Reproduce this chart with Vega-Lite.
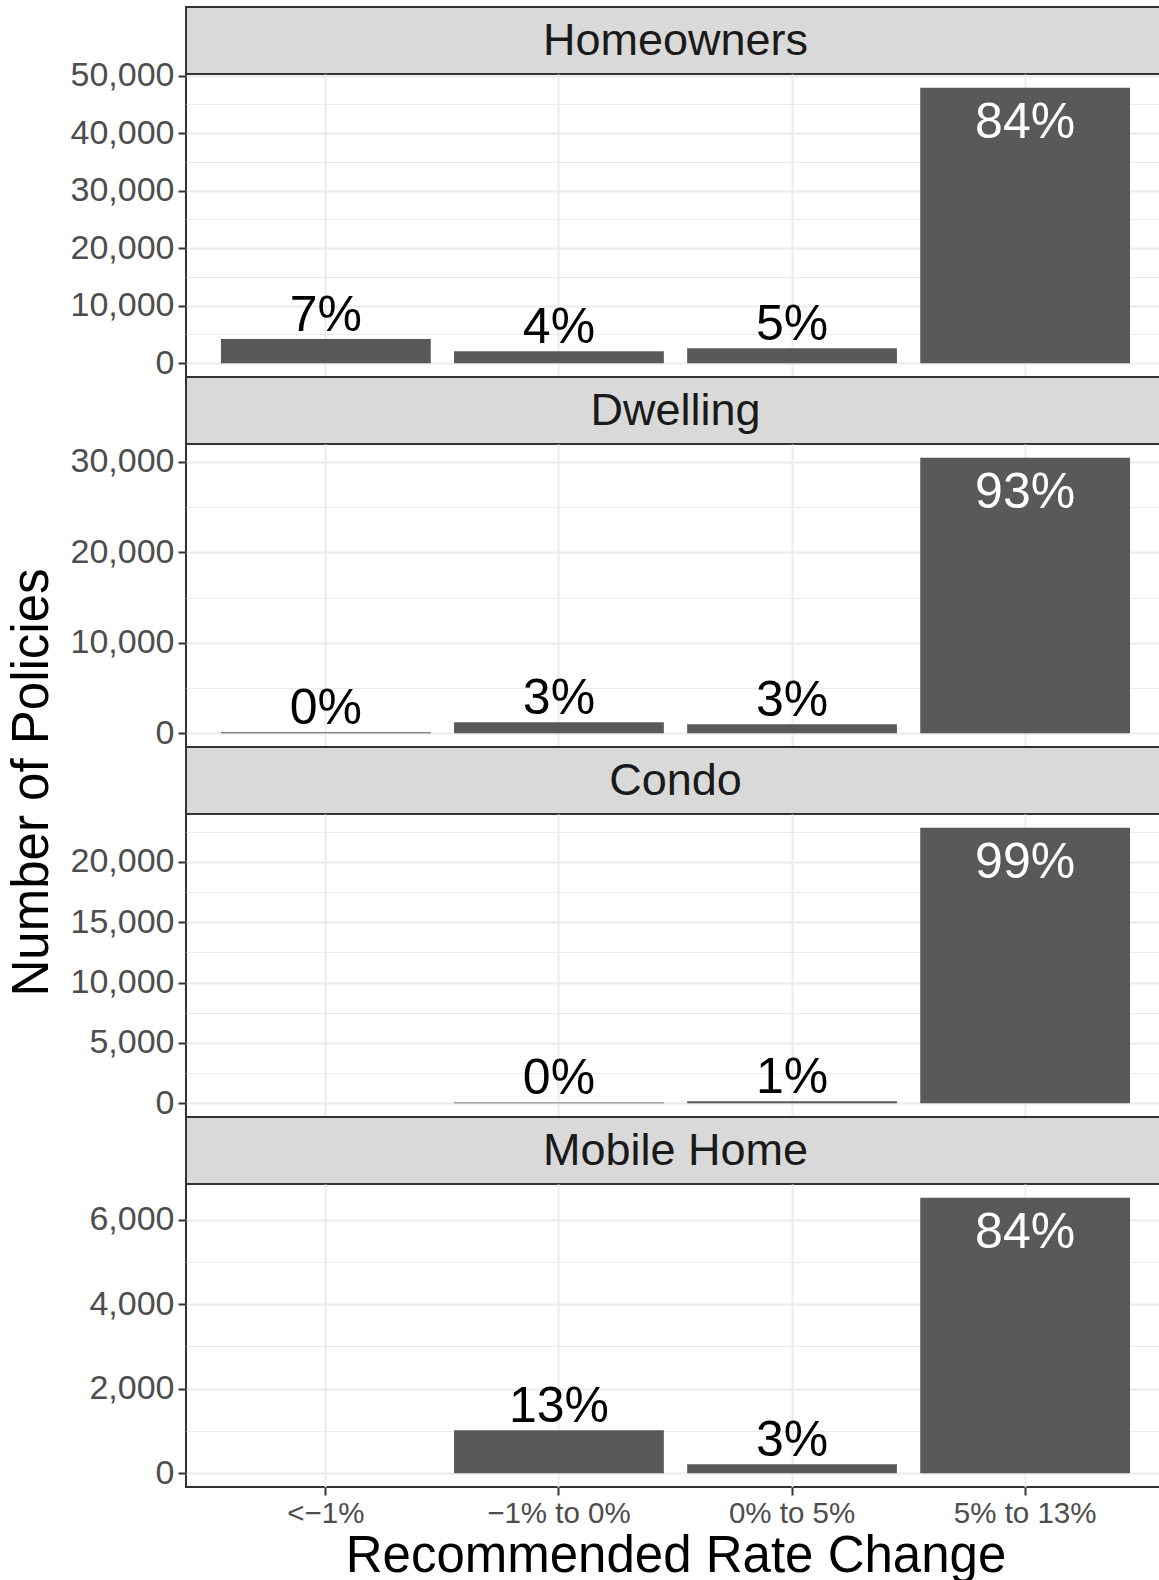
{
  "$schema": "https://vega.github.io/schema/vega-lite/v6.json",
  "padding": {"left": 5, "top": 6, "right": 2, "bottom": 5},
  "background": "white",
  "spacing": 0,
  "bounds": "flush",
  "config": {
    "font": "Liberation Sans",
    "view": {"stroke": "#333333", "strokeWidth": 2},
    "axis": {
      "labelFont": "Liberation Sans",
      "titleFont": "Liberation Sans",
      "labelColor": "#4D4D4D",
      "tickColor": "#333333",
      "tickWidth": 2,
      "tickSize": 8,
      "domain": false,
      "gridColor": "#EBEBEB",
      "labelPadding": 4,
      "titleFontWeight": "normal",
      "titleColor": "black",
      "titleFontSize": 51
    }
  },
  "datasets": {
    "d": [
      {"panel": "Homeowners", "cat": "<−1%", "n": 4200, "label": "7%", "big": false},
      {"panel": "Homeowners", "cat": "−1% to 0%", "n": 2100, "label": "4%", "big": false},
      {"panel": "Homeowners", "cat": "0% to 5%", "n": 2600, "label": "5%", "big": false},
      {"panel": "Homeowners", "cat": "5% to 13%", "n": 47900, "label": "84%", "big": true},
      {"panel": "Dwelling", "cat": "<−1%", "n": 100, "label": "0%", "big": false},
      {"panel": "Dwelling", "cat": "−1% to 0%", "n": 1220, "label": "3%", "big": false},
      {"panel": "Dwelling", "cat": "0% to 5%", "n": 1000, "label": "3%", "big": false},
      {"panel": "Dwelling", "cat": "5% to 13%", "n": 30450, "label": "93%", "big": true},
      {"panel": "Condo", "cat": "−1% to 0%", "n": 70, "label": "0%", "big": false},
      {"panel": "Condo", "cat": "0% to 5%", "n": 170, "label": "1%", "big": false},
      {"panel": "Condo", "cat": "5% to 13%", "n": 22830, "label": "99%", "big": true},
      {"panel": "Mobile Home", "cat": "−1% to 0%", "n": 1020, "label": "13%", "big": false},
      {"panel": "Mobile Home", "cat": "0% to 5%", "n": 215, "label": "3%", "big": false},
      {"panel": "Mobile Home", "cat": "5% to 13%", "n": 6520, "label": "84%", "big": true}
    ]
  },
  "data": {"name": "d"},
  "vconcat": [
    {
      "width": 979, "height": 67,
      "data": {"values": [{"panel": "Homeowners"}]},
      "view": {"fill": "#D9D9D9", "stroke": "#333333", "strokeWidth": 2},
      "mark": {"type": "text", "fontSize": 45, "color": "#1A1A1A"},
      "encoding": {
        "x": {"field": "panel", "type": "nominal", "axis": null},
        "y": {"field": "panel", "type": "nominal", "axis": null},
        "text": {"field": "panel"}
      }
    },
    {
      "width": 979, "height": 303,
      "transform": [{"filter": "datum.panel === 'Homeowners'"}],
      "encoding": {
        "x": {"field": "cat", "type": "nominal", "sort": null,
          "scale": {"domain": ["<−1%", "−1% to 0%", "0% to 5%", "5% to 13%"], "paddingInner": 0.1, "paddingOuter": 0.15},
          "axis": {"title": null, "labels": false, "ticks": false, "grid": true, "gridWidth": 2, "bandPosition": 0.5}},
        "y": {"field": "n", "type": "quantitative",
          "scale": {"domain": [-2395, 50295], "nice": false, "zero": false},
          "axis": {"title": null, "values": [0, 5000, 10000, 15000, 20000, 25000, 30000, 35000, 40000, 45000, 50000], "labelFontSize": 34, "labelOverlap": false,
            "labelExpr": "datum.value % 10000 === 0 ? format(datum.value, ',') : ''",
            "gridWidth": {"condition": {"test": "datum.value % 10000 === 0", "value": 2}, "value": 1},
            "tickOpacity": {"condition": {"test": "datum.value % 10000 === 0", "value": 1}, "value": 0}}}
      },
      "layer": [
        {"mark": {"type": "bar", "color": "#595959"}},
        {"transform": [{"filter": "!datum.big"}], "mark": {"type": "text", "fontSize": 50, "baseline": "alphabetic", "dy": -8, "color": "black"}, "encoding": {"text": {"field": "label"}}},
        {"transform": [{"filter": "datum.big"}], "mark": {"type": "text", "fontSize": 50, "baseline": "top", "dy": 10, "color": "white"}, "encoding": {"text": {"field": "label"}}}
      ]
    },
    {
      "width": 979, "height": 67,
      "data": {"values": [{"panel": "Dwelling"}]},
      "view": {"fill": "#D9D9D9", "stroke": "#333333", "strokeWidth": 2},
      "mark": {"type": "text", "fontSize": 45, "color": "#1A1A1A"},
      "encoding": {
        "x": {"field": "panel", "type": "nominal", "axis": null},
        "y": {"field": "panel", "type": "nominal", "axis": null},
        "text": {"field": "panel"}
      }
    },
    {
      "width": 979, "height": 303,
      "transform": [{"filter": "datum.panel === 'Dwelling'"}],
      "encoding": {
        "x": {"field": "cat", "type": "nominal", "sort": null,
          "scale": {"domain": ["<−1%", "−1% to 0%", "0% to 5%", "5% to 13%"], "paddingInner": 0.1, "paddingOuter": 0.15},
          "axis": {"title": null, "labels": false, "ticks": false, "grid": true, "gridWidth": 2, "bandPosition": 0.5}},
        "y": {"field": "n", "type": "quantitative",
          "scale": {"domain": [-1522.5, 31972.5], "nice": false, "zero": false},
          "axis": {"title": null, "values": [0, 5000, 10000, 15000, 20000, 25000, 30000], "labelFontSize": 34, "labelOverlap": false,
            "labelExpr": "datum.value % 10000 === 0 ? format(datum.value, ',') : ''",
            "gridWidth": {"condition": {"test": "datum.value % 10000 === 0", "value": 2}, "value": 1},
            "tickOpacity": {"condition": {"test": "datum.value % 10000 === 0", "value": 1}, "value": 0}}}
      },
      "layer": [
        {"mark": {"type": "bar", "color": "#595959"}},
        {"transform": [{"filter": "!datum.big"}], "mark": {"type": "text", "fontSize": 50, "baseline": "alphabetic", "dy": -8, "color": "black"}, "encoding": {"text": {"field": "label"}}},
        {"transform": [{"filter": "datum.big"}], "mark": {"type": "text", "fontSize": 50, "baseline": "top", "dy": 10, "color": "white"}, "encoding": {"text": {"field": "label"}}}
      ]
    },
    {
      "width": 979, "height": 67,
      "data": {"values": [{"panel": "Condo"}]},
      "view": {"fill": "#D9D9D9", "stroke": "#333333", "strokeWidth": 2},
      "mark": {"type": "text", "fontSize": 45, "color": "#1A1A1A"},
      "encoding": {
        "x": {"field": "panel", "type": "nominal", "axis": null},
        "y": {"field": "panel", "type": "nominal", "axis": null},
        "text": {"field": "panel"}
      }
    },
    {
      "width": 979, "height": 303,
      "transform": [{"filter": "datum.panel === 'Condo'"}],
      "encoding": {
        "x": {"field": "cat", "type": "nominal", "sort": null,
          "scale": {"domain": ["<−1%", "−1% to 0%", "0% to 5%", "5% to 13%"], "paddingInner": 0.1, "paddingOuter": 0.15},
          "axis": {"title": null, "labels": false, "ticks": false, "grid": true, "gridWidth": 2, "bandPosition": 0.5}},
        "y": {"field": "n", "type": "quantitative",
          "scale": {"domain": [-1141.5, 23971.5], "nice": false, "zero": false},
          "axis": {"title": "Number of Policies", "titleY": -32, "titlePadding": 12, "values": [0, 2500, 5000, 7500, 10000, 12500, 15000, 17500, 20000, 22500], "labelFontSize": 34, "labelOverlap": false,
            "labelExpr": "datum.value % 5000 === 0 ? format(datum.value, ',') : ''",
            "gridWidth": {"condition": {"test": "datum.value % 5000 === 0", "value": 2}, "value": 1},
            "tickOpacity": {"condition": {"test": "datum.value % 5000 === 0", "value": 1}, "value": 0}}}
      },
      "layer": [
        {"mark": {"type": "bar", "color": "#595959"}},
        {"transform": [{"filter": "!datum.big"}], "mark": {"type": "text", "fontSize": 50, "baseline": "alphabetic", "dy": -8, "color": "black"}, "encoding": {"text": {"field": "label"}}},
        {"transform": [{"filter": "datum.big"}], "mark": {"type": "text", "fontSize": 50, "baseline": "top", "dy": 10, "color": "white"}, "encoding": {"text": {"field": "label"}}}
      ]
    },
    {
      "width": 979, "height": 67,
      "data": {"values": [{"panel": "Mobile Home"}]},
      "view": {"fill": "#D9D9D9", "stroke": "#333333", "strokeWidth": 2},
      "mark": {"type": "text", "fontSize": 45, "color": "#1A1A1A"},
      "encoding": {
        "x": {"field": "panel", "type": "nominal", "axis": null},
        "y": {"field": "panel", "type": "nominal", "axis": null},
        "text": {"field": "panel"}
      }
    },
    {
      "width": 979, "height": 303,
      "transform": [{"filter": "datum.panel === 'Mobile Home'"}],
      "encoding": {
        "x": {"field": "cat", "type": "nominal", "sort": null,
          "scale": {"domain": ["<−1%", "−1% to 0%", "0% to 5%", "5% to 13%"], "paddingInner": 0.1, "paddingOuter": 0.15},
          "axis": {"title": "Recommended Rate Change", "labelFontSize": 29.5, "labelAngle": 0, "grid": true, "gridWidth": 2, "bandPosition": 0.5, "titlePadding": 4}},
        "y": {"field": "n", "type": "quantitative",
          "scale": {"domain": [-326, 6846], "nice": false, "zero": false},
          "axis": {"title": null, "values": [0, 1000, 2000, 3000, 4000, 5000, 6000], "labelFontSize": 34, "labelOverlap": false,
            "labelExpr": "datum.value % 2000 === 0 ? format(datum.value, ',') : ''",
            "gridWidth": {"condition": {"test": "datum.value % 2000 === 0", "value": 2}, "value": 1},
            "tickOpacity": {"condition": {"test": "datum.value % 2000 === 0", "value": 1}, "value": 0}}}
      },
      "layer": [
        {"mark": {"type": "bar", "color": "#595959"}},
        {"transform": [{"filter": "!datum.big"}], "mark": {"type": "text", "fontSize": 50, "baseline": "alphabetic", "dy": -8, "color": "black"}, "encoding": {"text": {"field": "label"}}},
        {"transform": [{"filter": "datum.big"}], "mark": {"type": "text", "fontSize": 50, "baseline": "top", "dy": 10, "color": "white"}, "encoding": {"text": {"field": "label"}}}
      ]
    }
  ]
}
